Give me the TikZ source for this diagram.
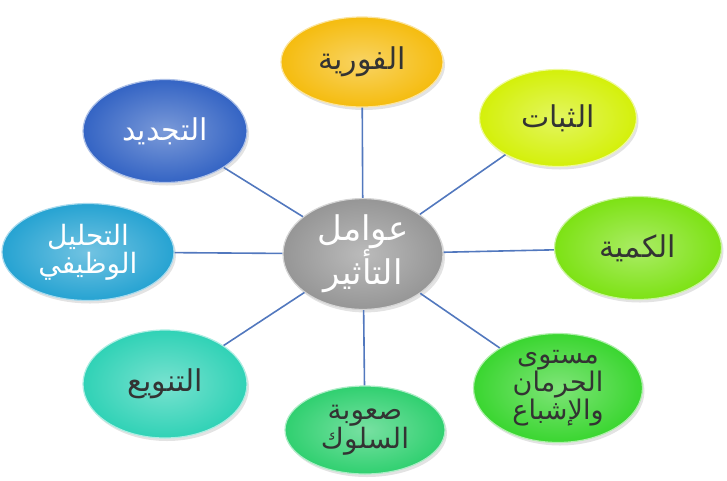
\documentclass[tikz,border=0pt]{standalone}
\usepackage{fontspec}
\newfontfamily\arabicfont[Script=Arabic]{DejaVu Sans}
\TeXXeTstate=1
\usetikzlibrary{shapes.geometric, shadows}

\definecolor{cGold}{RGB}{245,188,15}
\definecolor{cLime}{RGB}{212,240,10}
\definecolor{cGreenA}{RGB}{125,226,20}
\definecolor{cGreenB}{RGB}{58,214,48}
\definecolor{cGreenC}{RGB}{48,208,112}
\definecolor{cTeal}{RGB}{48,210,182}
\definecolor{cCyan}{RGB}{38,163,210}
\definecolor{cBlue}{RGB}{52,100,196}
\definecolor{cGray}{RGB}{150,150,150}
\definecolor{linkblue}{RGB}{82,120,190}

\newcommand{\arline}[1]{\beginR #1\endR}

\begin{document}
\begin{tikzpicture}[x=1pt, y=-1pt,
    factor/.style={ellipse, draw=#1!40!white, line width=1.2pt,
      shading=radial, inner color=#1!65!white, outer color=#1,
      drop shadow={opacity=0.22, shadow xshift=2pt, shadow yshift=-3pt},
      minimum width=162pt, minimum height=100pt, inner sep=0pt, align=center,
      font=\arabicfont\fontsize{30}{30}\selectfont, text=black!80},
    twoline/.style={font=\arabicfont\fontsize{28}{28}\selectfont},
    link/.style={draw=linkblue, line width=1.6pt}]
    \useasboundingbox (0,0) rectangle (727,480);

    % centre
    \node[factor=cGray, text=white, minimum width=160pt, minimum height=102pt,
      font=\arabicfont\fontsize{34}{36}\selectfont] (c) at (363,254)
      {\arline{عوامل}\\\arline{التأثير}};

    % factors around
    \node[factor=cGold, minimum height=90pt] (fawr) at (362,62) {\arline{الفورية}};
    \node[factor=cLime, minimum width=157pt, minimum height=97pt] (thabat) at (558,118) {\arline{الثبات}};
    \node[factor=cGreenA, minimum width=167pt, minimum height=103pt] (kamiya) at (638,248) {\arline{الكمية}};
    \node[factor=cGreenB, minimum width=169pt, minimum height=109pt,
      font=\arabicfont\fontsize{27}{27}\selectfont] (mustawa) at (558,388)
      {\arline{مستوى}\\\arline{الحرمان}\\\arline{والإشباع}};
    \node[factor=cGreenC, twoline, minimum width=160pt, minimum height=88pt] (suuba) at (365,430)
      {\arline{صعوبة}\\\arline{السلوك}};
    \node[factor=cTeal, minimum width=164pt, minimum height=108pt] (tanwi) at (165,384) {\arline{التنويع}};
    \node[factor=cCyan, twoline, text=white, minimum width=172pt, minimum height=97pt] (tahlil) at (88,252)
      {\arline{التحليل}\\\arline{الوظيفي}};
    \node[factor=cBlue, text=white, minimum width=164pt, minimum height=103pt] (tajdid) at (165,131) {\arline{التجديد}};

    % spokes
    \foreach \n in {fawr, thabat, kamiya, mustawa, suuba, tanwi, tahlil, tajdid}
      \draw[link] (c) -- (\n);
\end{tikzpicture}
\end{document}
